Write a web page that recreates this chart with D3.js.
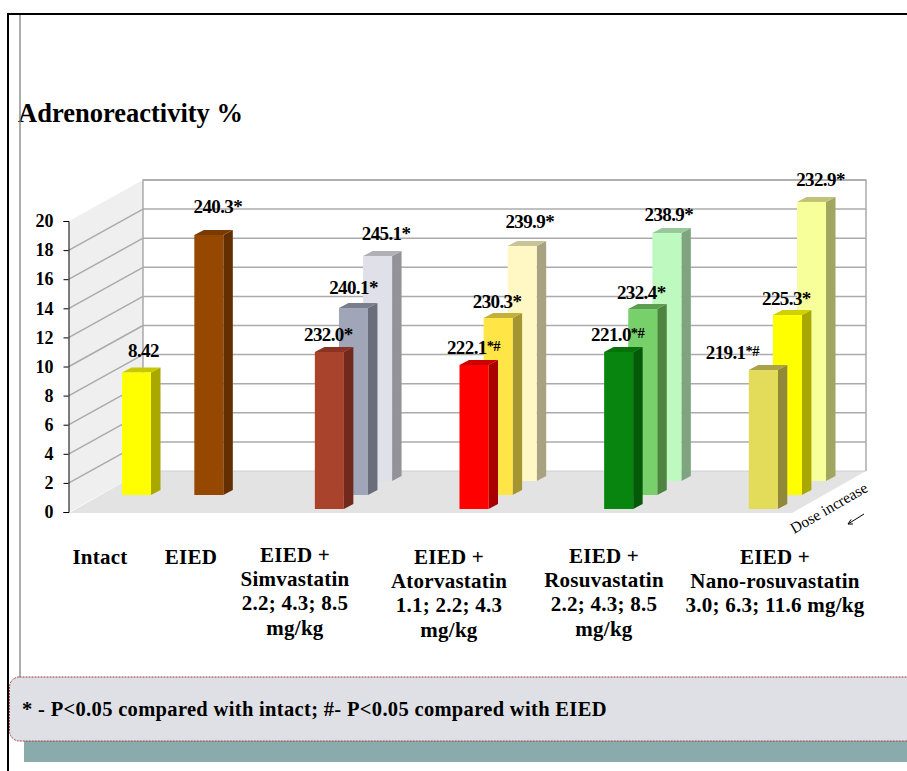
<!DOCTYPE html>
<html><head><meta charset="utf-8">
<script src="https://cdn.jsdelivr.net/npm/d3@7/dist/d3.min.js"></script>
<style>html,body{margin:0;padding:0;background:#fff}svg{display:block}
text{font-family:"Liberation Serif",serif;font-weight:bold;fill:#000}</style>
</head><body><svg id="c" width="907" height="771"></svg>
<script>
// ---- data ----
const tickValues = [0,2,4,6,8,10,12,14,16,18,20];
const title = "Adrenoreactivity %";
const barGroups = ["Intact","EIED","Simvastatin","Simvastatin","Simvastatin","Atorvastatin","Atorvastatin","Atorvastatin","Rosuvastatin","Rosuvastatin","Rosuvastatin","Nano-rosuvastatin","Nano-rosuvastatin","Nano-rosuvastatin"];
const barHeights = [8.42,17.87,10.79,12.85,15.46,9.9,12.16,16.15,10.79,12.78,17.04,9.55,12.37,19.18];
const barValueText = ["8.42","240.3","232.0","240.1","245.1","222.1","230.3","239.9","221.0","232.4","238.9","219.1","225.3","232.9"];
const barMarks = ["","*","*","*","*","*#","*","*","*#","*","*","*#","*","*"];
const barFront = ["#ffff00","#964800","#a9432b","#a0a6b8","#e0e1e8","#ff0000","#ffe545","#fff8c4","#08850f","#78d06a","#befac0","#e2dc5a","#ffff00","#f7ff9a"];
const barSide  = ["#a8a800","#642f00","#70291b","#6a6e7a","#929298","#a80000","#a59530","#a8a280","#055a0a","#4e8440","#7ea57f","#90893a","#a8a800","#a0a560"];
const barCap   = ["#c8c800","#7a3a00","#8a3322","#7a7e8c","#b0b0b5","#cc0000","#c4b038","#c8c498","#067009","#5c9e50","#98c89a","#aaa248","#d0d000","#c0c278"];
const categoryLines = [
  ["Intact"],["EIED"],
  ["EIED +","Simvastatin","2.2; 4.3; 8.5","mg/kg"],
  ["EIED +","Atorvastatin","1.1;  2.2; 4.3","mg/kg"],
  ["EIED +","Rosuvastatin","2.2; 4.3; 8.5","mg/kg"],
  ["EIED +","Nano-rosuvastatin","3.0; 6.3; 11.6 mg/kg"]
];
const footnote = "* - P<0.05 compared with intact; #- P<0.05 compared with EIED";
const depthNote = "Dose increase";

// ---- layout ----
const svg = d3.select("#c");
const y = d3.scaleLinear().domain([0,20]).range([512,221]);
const slot = d3.scaleLinear().domain([0,28]).range([122,797]);
const baseY = d3.scaleLinear().domain([0,2]).range([509,481]);
const wallDX = 74, wallDY = -41, barW = 29, sideDX = 9.5, sideDY = -5;
const axisX = 69, backX = axisX + wallDX, rightX = 866;

// position of every bar on the slot axis and its row in depth
const groupNames = Array.from(new Set(barGroups));
const bars = barHeights.map((v,i)=>{
  const g = groupNames.indexOf(barGroups[i]);
  const first = barGroups.indexOf(barGroups[i]);
  const depth = g < 2 ? 1 : i - first;
  const s = g < 2 ? g*3 : 8 + (g-2)*6 + depth;
  return {v,i,depth,s};
});

// walls
const fg = svg.append("g");
fg.append("polygon").attr("fill","#efefef")
  .attr("points",[[axisX,y(20)],[backX,y(20)+wallDY],[backX,y(0)+wallDY],[axisX,y(0)]].join(" "));
fg.append("polygon").attr("fill","#e3e3e3")
  .attr("points",[[axisX,y(0)+1],[backX,y(0)+wallDY],[rightX,y(0)+wallDY],[rightX-wallDX,y(0)+1]].join(" "));
const gridV = tickValues.filter(v=>v>0);
fg.selectAll("line.b").data(gridV).join("line").attr("class","b")
  .attr("x1",backX).attr("x2",rightX).attr("y1",d=>y(d)+wallDY).attr("y2",d=>y(d)+wallDY)
  .attr("stroke","#ababab").attr("stroke-width",1.5);
fg.selectAll("line.s").data(gridV.filter(v=>v<20)).join("line").attr("class","s")
  .attr("x1",axisX).attr("x2",backX).attr("y1",d=>y(d)).attr("y2",d=>y(d)+wallDY)
  .attr("stroke","#ababab").attr("stroke-width",1.5);
fg.append("path").attr("fill","none").attr("stroke","#ababab").attr("stroke-width",1.5)
  .attr("d",`M${backX},${y(0)+wallDY}V${y(20)+wallDY}H${rightX}V${y(0)+wallDY}`);
fg.append("line").attr("x1",backX).attr("x2",rightX).attr("y1",y(0)+wallDY).attr("y2",y(0)+wallDY)
  .attr("stroke","#d0d0d0");

// axis
const ax = svg.append("g").attr("transform",`translate(${axisX-.5},0)`)
  .call(d3.axisLeft(y).tickValues(tickValues).tickSize(5).tickPadding(10));
ax.selectAll("text").style("font-size","18px").style("font-family","Liberation Serif").attr("dy","0.32em");
ax.selectAll("line,path").attr("stroke","#000");

// bars, back row first
const order = bars.slice().sort((a,b)=>b.depth-a.depth || a.i-b.i);
const bg = svg.append("g").selectAll("g").data(order).join("g");
const topY = d=>baseY(d.depth)-(y(0)-y(d.v));
bg.append("path").attr("fill",d=>barSide[d.i]).attr("d",d=>{
  const x=slot(d.s)+barW; return `M${x},${baseY(d.depth)}l${sideDX},${sideDY}V${topY(d)+sideDY}L${x},${topY(d)}Z`;});
bg.append("path").attr("fill",d=>barCap[d.i]).attr("d",d=>{
  const x=slot(d.s); return `M${x},${topY(d)}l${sideDX},${sideDY}h${barW}l${-sideDX},${-sideDY}Z`;});
bg.append("rect").attr("fill",d=>barFront[d.i]).attr("x",d=>slot(d.s)).attr("y",topY).attr("width",barW)
  .attr("height",d=>baseY(d.depth)-topY(d));

// value labels: offset of the label centre / baseline from the bar's top
const labelNudge = [[7,-15],[9,-22],[-1,-11],[0,-14],[8.5,-16],[-0.5,-11],[-1,-10],[7.5,-18],[-1,-11],[-1.5,-10],[2,-12],[-31,-11],[-1,-10],[9,-16]];
const lab = svg.append("g").selectAll("text").data(bars).join("text")
  .attr("text-anchor","middle").style("font-size","19px").style("letter-spacing","-0.6px")
  .attr("x",d=>slot(d.s)+barW/2+labelNudge[d.i][0]).attr("y",d=>topY(d)+labelNudge[d.i][1]);
lab.append("tspan").text(d=>barValueText[d.i]);
lab.append("tspan").each(function(d){
  const m=barMarks[d.i], sup=m.length>1;
  d3.select(this).text(m).style("font-size",sup?"14.5px":"19px").attr("dy",sup?"-3":null);
});

// category labels
const catX = [100,191,295,449,604,775], catY0 = [557,557,555,557,556,557];
categoryLines.forEach((lines,c)=>{
  svg.append("g").selectAll("text").data(lines).join("text")
    .attr("text-anchor","middle").attr("x",catX[c]).attr("y",(d,i)=>catY0[c]+i*24.3)
    .attr("dy","0.32em").style("font-size","21px").style("letter-spacing","0.25px").text(d=>d);
});

// title
svg.append("text").attr("x",18).attr("y",122).style("font-size","26.5px").text(title);

// depth note
svg.append("text").attr("transform","translate(794,534) rotate(-30)").style("font-size","15.5px")
  .style("font-weight","normal").text(depthNote);
svg.append("path").attr("fill","none").attr("stroke","#000").attr("stroke-width",1)
  .attr("d","M864,514L848,524M853,524L848,524L851,519.5");

// page furniture
svg.append("line").attr("x1",20).attr("x2",20).attr("y1",14).attr("y2",677).attr("stroke","#808080").attr("stroke-width",1.3);
svg.append("path").attr("fill","none").attr("stroke","#000").attr("stroke-width",2).attr("d","M8,771V14H907");
svg.append("rect").attr("x",24).attr("y",741).attr("width",890).attr("height",21).attr("fill","#8aabab");
svg.append("rect").attr("x",9.5).attr("y",677).attr("width",930).attr("height",64).attr("rx",10)
  .attr("fill","#dfe0e5").attr("stroke","#a04040").attr("stroke-width",1).attr("stroke-dasharray","2 1");
svg.append("text").attr("x",22).attr("y",716).style("font-size","20.5px").style("letter-spacing","0.33px").text(footnote);
</script></body></html>
